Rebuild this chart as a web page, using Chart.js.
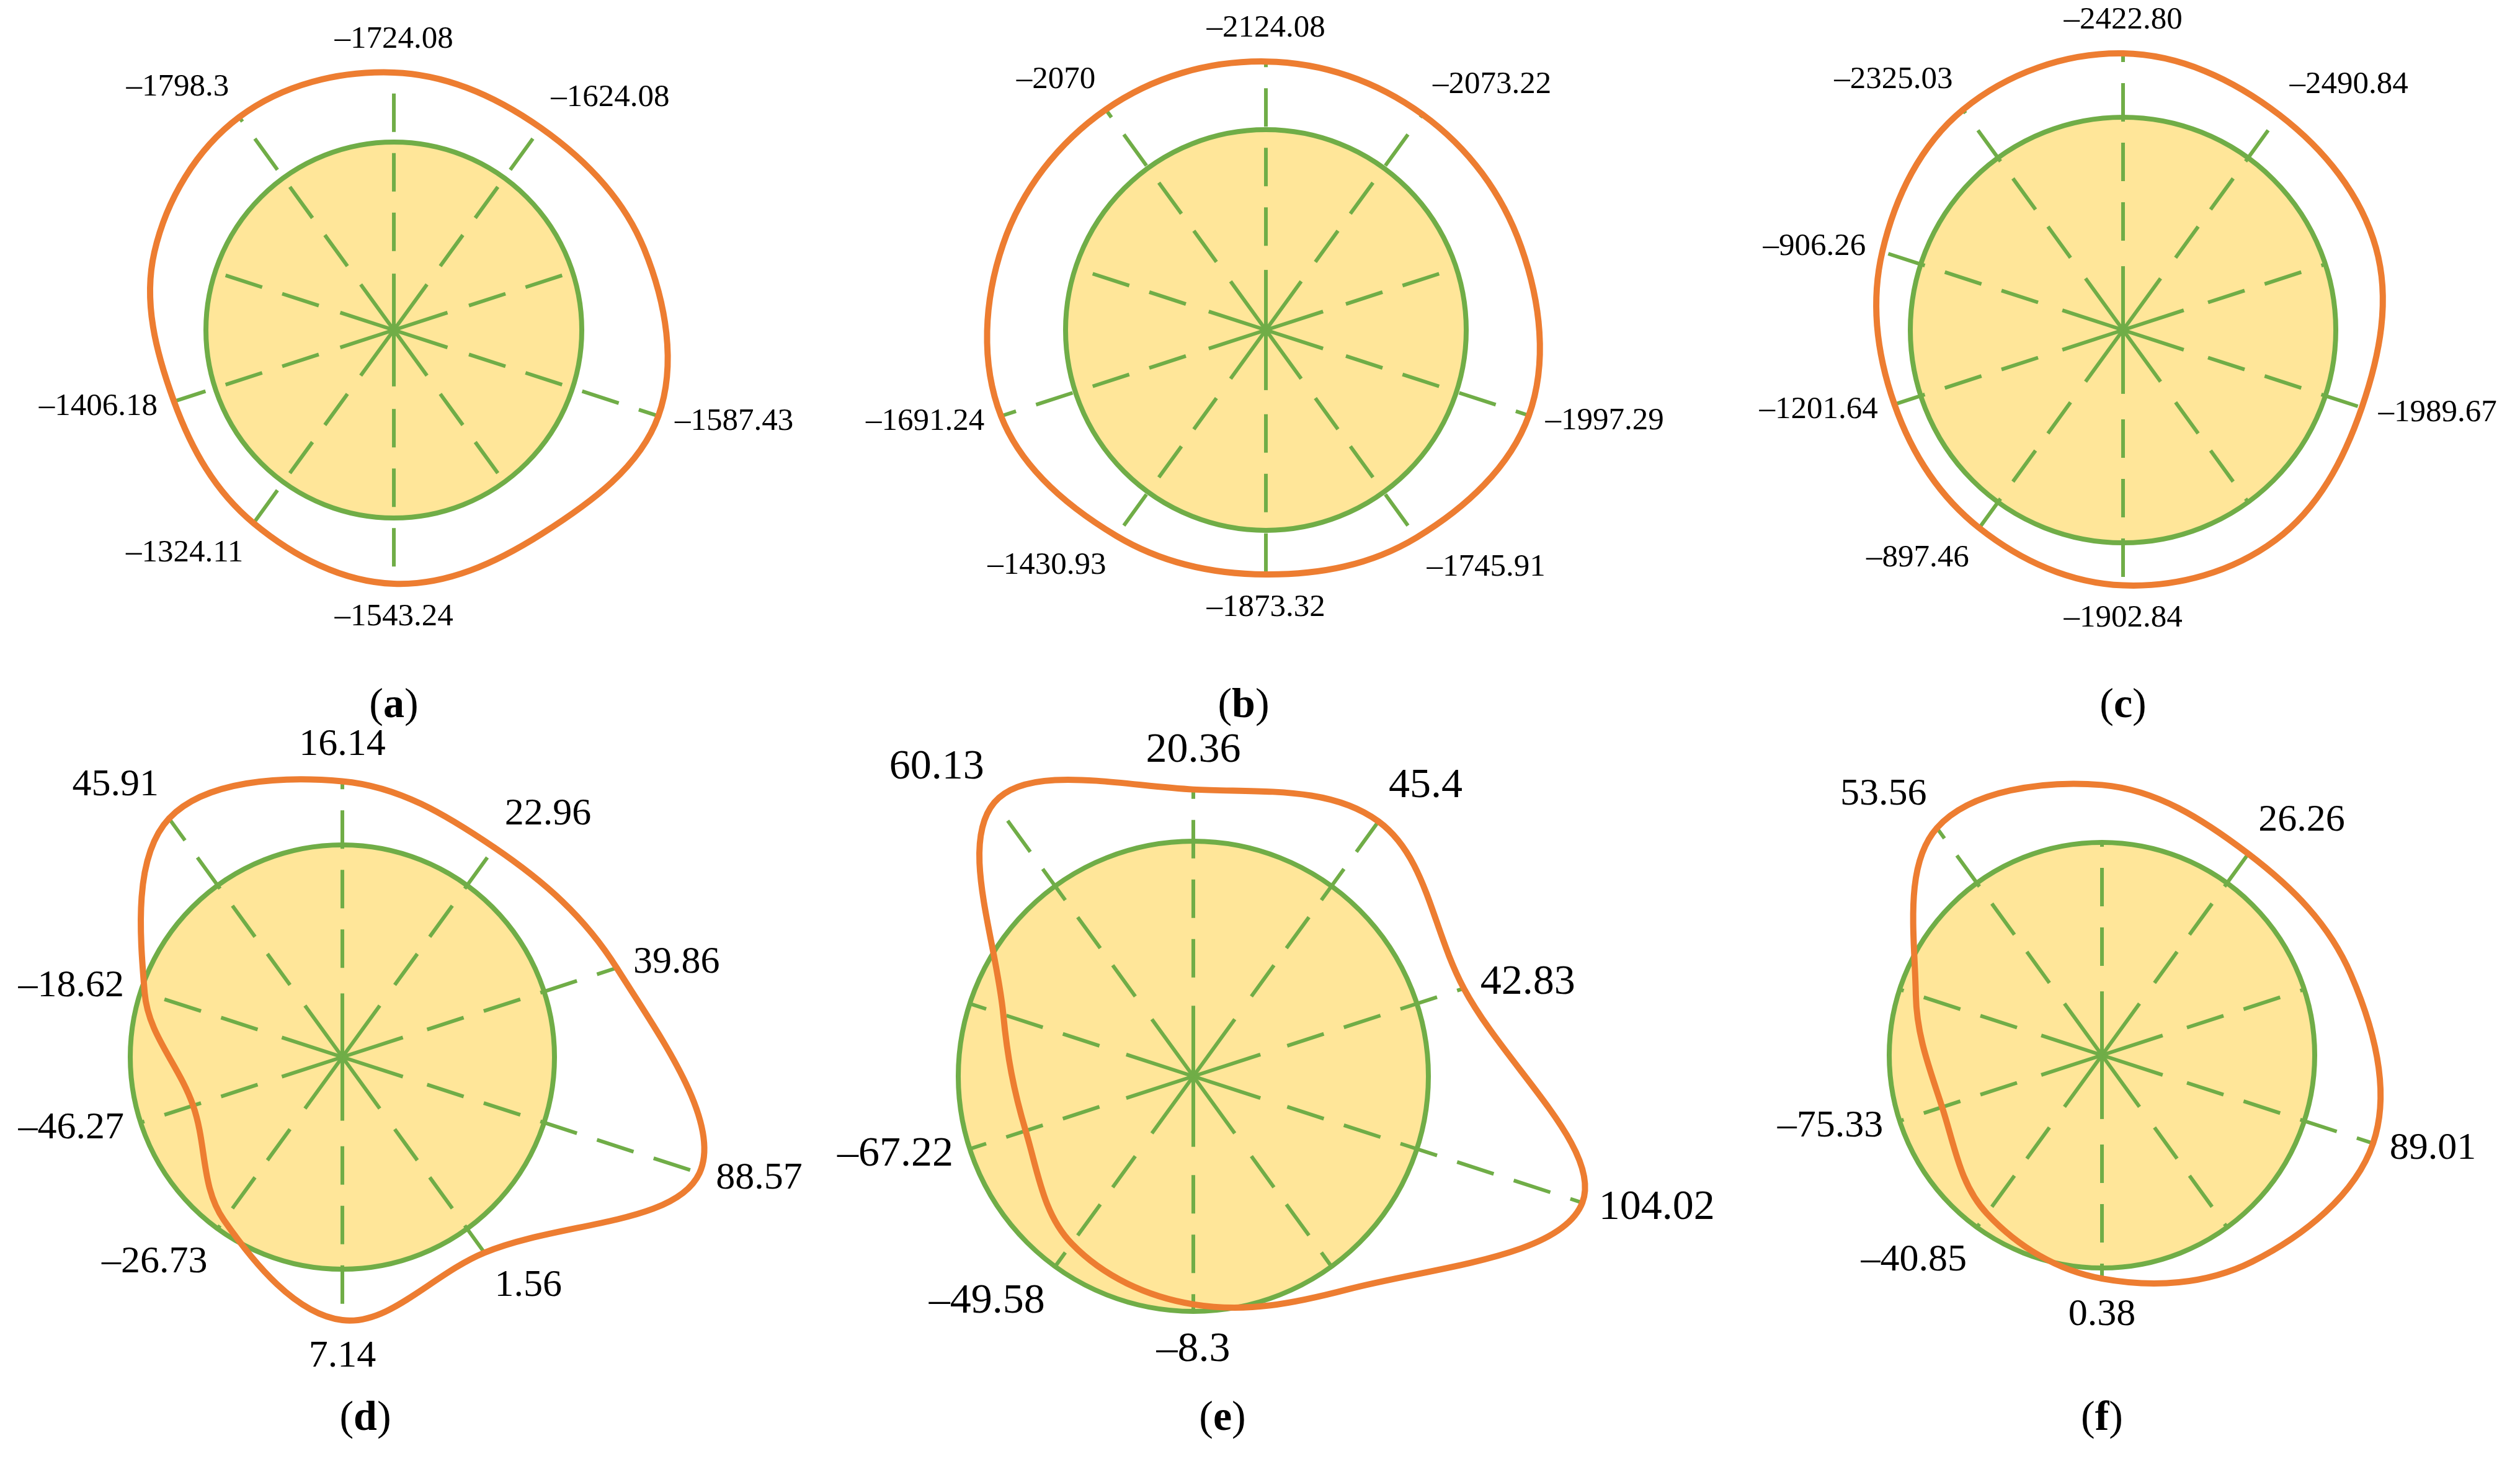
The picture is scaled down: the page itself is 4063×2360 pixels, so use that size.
<!DOCTYPE html>
<html>
<head>
<meta charset="utf-8">
<script src="https://cdn.jsdelivr.net/npm/chart.js@4.4.1/dist/chart.umd.min.js"></script>
<style>
  body { margin: 0; width: 4063px; height: 2360px; background: #fff; position: relative; overflow: hidden; }
  canvas { position: absolute; }
  .cap { position: absolute; font-family: "Liberation Serif", serif; font-size: 68px; transform: translate(-50%, -50%); }
</style>
</head>
<body>
<div class="cap" style="left:635px;top:1133px">(<b>a</b>)</div>
<div class="cap" style="left:2005px;top:1133px">(<b>b</b>)</div>
<div class="cap" style="left:3423px;top:1133px">(<b>c</b>)</div>
<div class="cap" style="left:589px;top:2282px">(<b>d</b>)</div>
<div class="cap" style="left:1971px;top:2282px">(<b>e</b>)</div>
<div class="cap" style="left:3389px;top:2282px">(<b>f</b>)</div>
<script>
// 10 spokes, clockwise from the top
const spokes = ['0°', '36°', '72°', '108°', '144°', '180°', '216°', '252°', '288°', '324°'];

// value labels at each spoke ('' = no label)
const labelsA = ['–1724.08', '–1624.08', '', '–1587.43', '', '–1543.24', '–1324.11', '–1406.18', '', '–1798.3'];
const labelsB = ['–2124.08', '–2073.22', '', '–1997.29', '–1745.91', '–1873.32', '–1430.93', '–1691.24', '', '–2070'];
const labelsC = ['–2422.80', '–2490.84', '', '–1989.67', '', '–1902.84', '–897.46', '–1201.64', '–906.26', '–2325.03'];
const labelsD = ['16.14', '22.96', '39.86', '88.57', '1.56', '7.14', '–26.73', '–46.27', '–18.62', '45.91'];
const labelsE = ['20.36', '45.4', '42.83', '104.02', '', '–8.3', '–49.58', '–67.22', '', '60.13'];
const labelsF = ['', '26.26', '', '89.01', '', '0.38', '–40.85', '–75.33', '', '53.56'];

// curve radius along each spoke (circle radius = 1)
const curveA = [1.37, 1.33, 1.40, 1.48, 1.34, 1.35, 1.27, 1.23, 1.34, 1.40];
const curveB = [1.34, 1.33, 1.34, 1.38, 1.28, 1.22, 1.27, 1.39, 1.38, 1.36];
const curveC = [1.30, 1.25, 1.25, 1.18, 1.22, 1.20, 1.15, 1.13, 1.19, 1.28];
const curveD = [1.30, 1.22, 1.36, 1.77, 1.14, 1.24, 0.95, 0.74, 0.98, 1.39];
const curveE = [1.22, 1.34, 1.21, 1.74, 1.12, 0.97, 0.88, 0.75, 0.85, 1.44];
const curveF = [1.27, 1.17, 1.23, 1.34, 1.20, 1.05, 0.92, 0.79, 0.92, 1.32];

const ORANGE = '#ED7D31';
const GREEN = '#70AD47';
const YELLOW = '#FFE699';
const W = 1900;
const H = 1340;

const panels = [
    { labels: labelsA, curve: curveA, cx: 635,  cy: 532,  r: 303, font: 51 },
    { labels: labelsB, curve: curveB, cx: 2041, cy: 532,  r: 323, font: 51 },
    { labels: labelsC, curve: curveC, cx: 3423, cy: 532,  r: 343, font: 51 },
    { labels: labelsD, curve: curveD, cx: 552,  cy: 1704, r: 342, font: 62 },
    { labels: labelsE, curve: curveE, cx: 1924, cy: 1735, r: 379, font: 68 },
    { labels: labelsF, curve: curveF, cx: 3389, cy: 1701, r: 343, font: 62 }
];

// yellow disk, spokes and value labels
const decor = {
    id: 'decor',
    beforeDraw(chart) {
        const s = chart.scales.r;
        const ctx = chart.ctx;
        ctx.save();
        ctx.fillStyle = YELLOW;
        ctx.beginPath();
        ctx.arc(s.xCenter, s.yCenter, s.getDistanceFromCenterForValue(1), 0, Math.PI * 2);
        ctx.fill();
        ctx.restore();
    },
    beforeDatasetsDraw(chart) {
        const s = chart.scales.r;
        const p = chart.config.options.plugins.decor;
        const ctx = chart.ctx;
        ctx.save();
        ctx.strokeStyle = GREEN;
        ctx.lineWidth = 6;
        p.labels.forEach((lab, i) => {
            const inner = s.getPointPositionForValue(i, 0.3);
            const c = s.getPointPositionForValue(i, 0);
            ctx.setLineDash([]);
            ctx.beginPath();
            ctx.moveTo(c.x, c.y);
            ctx.lineTo(inner.x, inner.y);
            ctx.stroke();
            const endV = lab && p.curve[i] > 1 ? p.curve[i] : 1;
            const start = s.getPointPositionForValue(i, 0.42);
            const end = s.getPointPositionForValue(i, endV);
            ctx.setLineDash([62, 34]);
            ctx.beginPath();
            ctx.moveTo(start.x, start.y);
            ctx.lineTo(end.x, end.y);
            ctx.stroke();
        });
        ctx.restore();
    },
    afterDatasetsDraw(chart) {
        const s = chart.scales.r;
        const p = chart.config.options.plugins.decor;
        const ctx = chart.ctx;
        ctx.save();
        ctx.fillStyle = '#000';
        ctx.font = p.font + 'px "Liberation Serif", serif';
        p.labels.forEach((lab, i) => {
            if (!lab) return;
            const a = s.getIndexAngle(i) - Math.PI / 2;
            const pos = s.getPointPositionForValue(i, Math.max(p.curve[i], 1));
            const off = 28;
            const x = pos.x + Math.cos(a) * off;
            const y = pos.y + Math.sin(a) * off;
            const cs = Math.cos(a), sn = Math.sin(a);
            ctx.textAlign = Math.abs(cs) < 0.2 ? 'center' : (cs > 0 ? 'left' : 'right');
            ctx.textBaseline = sn < -0.5 ? 'bottom' : (sn > 0.5 ? 'top' : 'middle');
            ctx.fillText(lab, x, y);
        });
        ctx.restore();
    }
};

panels.forEach(p => {
    const canvas = document.createElement('canvas');
    canvas.width = W;
    canvas.height = H;
    canvas.style.left = (p.cx - W / 2) + 'px';
    canvas.style.top = (p.cy - H / 2) + 'px';
    document.body.appendChild(canvas);

    new Chart(canvas.getContext('2d'), {
        type: 'radar',
        data: {
            labels: spokes,
            datasets: [{
                data: p.curve,
                borderColor: ORANGE,
                borderWidth: 10,
                fill: false,
                tension: 0.36,
                pointRadius: 0
            }]
        },
        options: {
            responsive: false,
            animation: false,
            devicePixelRatio: 1,
            layout: { padding: 0 },
            plugins: {
                legend: { display: false },
                tooltip: { enabled: false },
                decor: { labels: p.labels, curve: p.curve, font: p.font }
            },
            scales: {
                r: {
                    min: 0,
                    max: (H / 2) / p.r,
                    afterBuildTicks: axis => { axis.ticks = [{ value: 0 }, { value: 1 }]; },
                    ticks: { display: false },
                    pointLabels: { display: false },
                    angleLines: { display: false },
                    grid: { circular: true, color: GREEN, lineWidth: 8 }
                }
            }
        },
        plugins: [decor]
    });
});
</script>
</body>
</html>
